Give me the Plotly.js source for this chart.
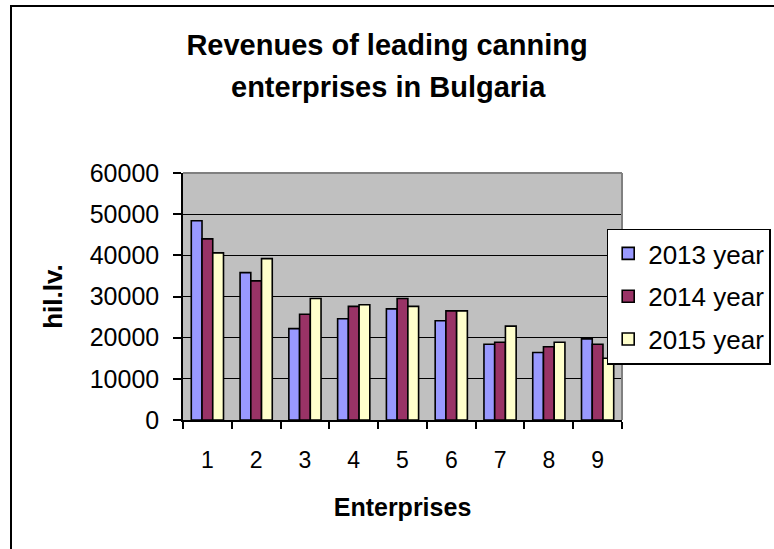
<!DOCTYPE html>
<html>
<head>
<meta charset="utf-8">
<script src="https://cdn.plot.ly/plotly-3.0.1.min.js"></script>
<style>
html,body{margin:0;padding:0;background:#fff;}
#chart{width:774px;height:549px;}
</style>
</head>
<body>
<div id="chart"></div>
<script>
// Data
var categories = ['1', '2', '3', '4', '5', '6', '7', '8', '9'];
var seriesNames = ['2013 year', '2014 year', '2015 year'];
var values2013 = [48400, 35800, 22200, 24600, 27000, 24100, 18400, 16400, 19700];
var values2014 = [44000, 33800, 25700, 27600, 29500, 26500, 18900, 17800, 18400];
var values2015 = [40600, 39200, 29500, 28000, 27600, 26500, 22800, 18900, 15000];
var yTickValues = [0, 10000, 20000, 30000, 40000, 50000, 60000];
var titleLine1 = 'Revenues of leading canning';
var titleLine2 = 'enterprises in Bulgaria';
var xTitle = 'Enterprises';
var yTitle = 'hil.lv.';

var FONT = 'Arial, "Liberation Sans", sans-serif';
var colors = ['#9999FF', '#993366', '#FFFFCC'];
var allValues = [values2013, values2014, values2015];

// plot area in pixels
var W = 774, H = 549;
var L = 183, R = 622, T = 173, B = 420;
var pw = R - L, ph = B - T;
function px(x) { return (x - L) / pw; }
function py(y) { return (B - y) / ph; }

var traces = allValues.map(function (vals, i) {
  return {
    type: 'bar',
    name: seriesNames[i],
    x: categories,
    y: vals,
    legendgroup: 'g' + i,
    marker: { color: colors[i], line: { color: '#000000', width: 1.6 } },
    hoverinfo: 'x+y+name'
  };
});

var layout = {
  width: W,
  height: H,
  paper_bgcolor: '#FFFFFF',
  plot_bgcolor: '#C0C0C0',
  margin: { l: L, r: W - R, t: T, b: H - B, pad: 0, autoexpand: false },
  font: { family: FONT, color: '#000000', size: 22 },
  barmode: 'group',
  bargap: 0.34,
  bargroupgap: 0,
  title: {
    text: titleLine1,
    font: { family: FONT, size: 29, weight: 'bold', color: '#000000' },
    x: 387 / W, xanchor: 'center', xref: 'container',
    y: 1 - 45 / H, yanchor: 'middle', yref: 'container'
  },
  annotations: [{
    text: titleLine2,
    xref: 'paper', yref: 'paper',
    x: px(388), y: py(87.5),
    xanchor: 'center', yanchor: 'middle',
    showarrow: false,
    font: { family: FONT, size: 29, weight: 'bold', color: '#000000' }
  }],
  xaxis: {
    type: 'category',
    tickson: 'boundaries',
    ticks: 'outside',
    ticklen: 7,
    tickwidth: 1.5,
    tickcolor: '#000000',
    showline: true,
    linecolor: '#000000',
    linewidth: 1.5,
    showgrid: false,
    zeroline: false,
    ticklabelstandoff: 19,
    tickfont: { family: FONT, size: 23, color: '#000000' },
    title: {
      text: xTitle,
      standoff: 26,
      font: { family: FONT, size: 25, weight: 'bold', color: '#000000' }
    },
    fixedrange: true
  },
  yaxis: {
    range: [0, 60000],
    tickmode: 'array',
    tickvals: yTickValues,
    ticktext: yTickValues.map(String),
    ticks: 'outside',
    ticklen: 8,
    tickwidth: 1.5,
    tickcolor: '#000000',
    showline: true,
    linecolor: '#000000',
    linewidth: 1.5,
    showgrid: true,
    gridcolor: '#000000',
    gridwidth: 1,
    zeroline: false,
    ticklabelstandoff: 9,
    tickfont: { family: FONT, size: 25, color: '#000000' },
    title: {
      text: yTitle,
      standoff: 20,
      font: { family: FONT, size: 26, weight: 'bold', color: '#000000' }
    },
    fixedrange: true
  },
  legend: {
    x: px(606.7), xanchor: 'left',
    y: py(228.5), yanchor: 'top',
    bgcolor: '#FFFFFF',
    bordercolor: '#000000',
    borderwidth: 1.5,
    traceorder: 'grouped',
    tracegroupgap: 6,
    font: { family: FONT, size: 26, color: '#000000' }
  },
  shapes: [
    // outer chart frame
    { type: 'rect', xref: 'paper', yref: 'paper', layer: 'above',
      x0: px(11), x1: px(900), y0: py(700), y1: py(6),
      line: { color: '#000000', width: 2 }, fillcolor: 'rgba(0,0,0,0)' },
    // grey plot-area border (top and right)
    { type: 'line', xref: 'paper', yref: 'paper', layer: 'above',
      x0: 0, x1: 1, y0: 1, y1: 1, line: { color: '#808080', width: 2 } },
    { type: 'line', xref: 'paper', yref: 'paper', layer: 'above',
      x0: 1, x1: 1, y0: 0, y1: 1, line: { color: '#808080', width: 2 } }
  ],
  showlegend: true,
  hovermode: 'closest'
};

Plotly.newPlot('chart', traces, layout, { displayModeBar: false, staticPlot: false });
</script>
</body>
</html>
